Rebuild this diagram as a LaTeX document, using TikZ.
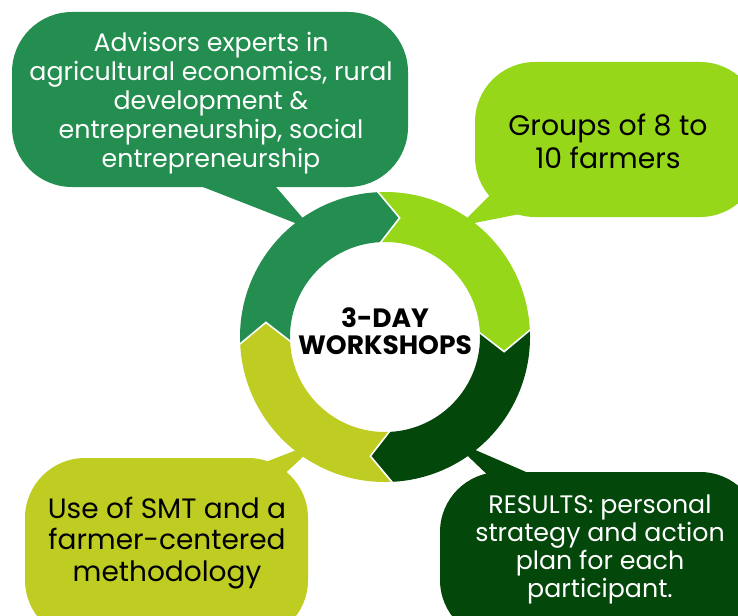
\documentclass[tikz,border=0pt]{standalone}
\usepackage{fontspec}
\setmainfont{Poppins}
\definecolor{cA}{RGB}{35,142,80}
\definecolor{cB}{RGB}{150,215,26}
\definecolor{cC}{RGB}{3,71,11}
\definecolor{cD}{RGB}{191,205,35}
\tikzset{
  bubble/.style={rounded corners=60pt},
  txt/.style={align=center, inner sep=0pt},
  sep/.style={draw=white, line width=1.6pt, line join=miter}
}
\begin{document}
\begin{tikzpicture}[x=1pt,y=-1pt]
\useasboundingbox (0,0) rectangle (738,615);
\clip (0,0) rectangle (738,615);
\fill[white] (0,0) rectangle (738,615);
% bubbles
\fill[cA, bubble] (12,12) rectangle (408,187);
\fill[cB, bubble] (475,62) rectangle (760,217);
\fill[cD, bubble] (25,458) rectangle (308,640);
\fill[cC, bubble] (440,472) rectangle (760,640);
% tails
\fill[cA] (185,180) -- (313,230) -- (270,180) -- cycle;
\fill[cB] (500,185) -- (459,226) -- (530,212) -- cycle;
\fill[cD] (250,468) -- (320,441) -- (278,480) -- cycle;
\fill[cC] (450,439) -- (540,478) -- (495,482) -- cycle;
% ring
\begin{scope}[shift={(385,337)}, yscale=-1]
  \coordinate (c) at (0,0);
  \foreach \a/\col in {93/cB, 3/cC, -87/cD, 183/cA}{
    \fill[\col] (\a:145) arc[start angle=\a, end angle=\a-90, radius=145]
      -- (\a-100:120) -- (\a-90:95)
      arc[start angle=\a-90, end angle=\a, radius=95]
      -- (\a-10:120) -- cycle;
  }
  \foreach \a in {93, 3, -87, 183}{
    \draw[sep] (\a:146) -- (\a-10:120) -- (\a:94);
  }
\end{scope}
% texts
\node[txt, text=white, font=\fontsize{25.3}{29}\selectfont] (t1) at (211,103)
  {Advisors experts in\\agricultural economics, rural\\development \&\\entrepreneurship, social\\entrepreneurship};
\node[txt, text=black, font=\fontsize{28.3}{33}\selectfont] (t2) at (608,141)
  {Groups of 8 to\\10 farmers};
\node[txt, text=black, font=\fontsize{28}{31.5}\selectfont] (t3) at (167,543)
  {Use of SMT and a\\farmer-centered\\methodology};
\node[txt, text=white, font=\fontsize{25.3}{28}\selectfont] (t4) at (600,549)
  {RESULTS: personal\\strategy and action\\plan for each\\participant.};
\node[txt, text=black, font=\bfseries\fontsize{26.5}{27}\selectfont] (t0) at (385,331)
  {3-DAY\\WORKSHOPS};
\end{tikzpicture}
\end{document}
